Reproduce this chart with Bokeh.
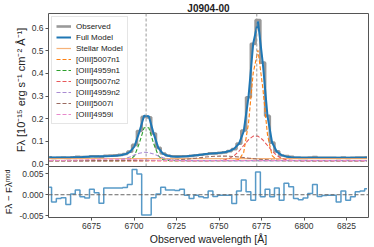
from bokeh.plotting import figure
from bokeh.layouts import column
from bokeh.models import Span, Legend, LegendItem, FixedTicker, PrintfTickFormatter, Range1d
from bokeh.embed import file_html
from bokeh.resources import INLINE

# ---------------- data ----------------
wave = [6650.1, 6652.9, 6655.7, 6658.5, 6661.3, 6664.1, 6666.8, 6669.6, 6672.4, 6675.2,
        6678.0, 6680.8, 6683.6, 6686.4, 6689.2, 6692.0, 6694.7, 6697.5, 6700.3, 6703.1,
        6705.9, 6708.7, 6711.5, 6714.3, 6717.1, 6719.9, 6722.6, 6725.4, 6728.2, 6731.0,
        6733.8, 6736.6, 6739.4, 6742.2, 6745.0, 6747.8, 6750.5, 6753.3, 6756.1, 6758.9,
        6761.7, 6764.5, 6767.3, 6770.1, 6772.9, 6775.7, 6778.5, 6781.2, 6784.0, 6786.8,
        6789.6, 6792.4, 6795.2, 6798.0, 6800.8, 6803.6, 6806.4, 6809.1, 6811.9, 6814.7,
        6817.5, 6820.3, 6823.1, 6825.9, 6828.7, 6831.5, 6834.3, 6837.0]

observed = [0.0300, 0.0266, 0.0276, 0.0281, 0.0269, 0.0299, 0.0314, 0.0305, 0.0310, 0.0339,
            0.0338, 0.0320, 0.0363, 0.0369, 0.0379, 0.0401, 0.0444, 0.0546, 0.0843, 0.1456,
            0.2078, 0.2058, 0.1345, 0.0712, 0.0465, 0.0373, 0.0343, 0.0335, 0.0344, 0.0345,
            0.0357, 0.0388, 0.0408, 0.0430, 0.0467, 0.0471, 0.0490, 0.0515, 0.0569, 0.0657,
            0.0901, 0.1476, 0.2946, 0.5302, 0.6348, 0.4472, 0.2123, 0.0942, 0.0556, 0.0378,
            0.0351, 0.0315, 0.0277, 0.0270, 0.0272, 0.0283, 0.0304, 0.0276, 0.0278, 0.0279,
            0.0279, 0.0263, 0.0289, 0.0267, 0.0275, 0.0287, 0.0289, 0.0294]

full_model = [0.0282, 0.0283, 0.0285, 0.0288, 0.0292, 0.0297, 0.0303, 0.0310, 0.0318, 0.0326,
              0.0333, 0.0340, 0.0347, 0.0353, 0.0363, 0.0385, 0.0427, 0.0522, 0.0783, 0.1407,
              0.2126, 0.2106, 0.1352, 0.0710, 0.0447, 0.0362, 0.0332, 0.0325, 0.0331, 0.0346,
              0.0366, 0.0389, 0.0413, 0.0437, 0.0458, 0.0475, 0.0491, 0.0516, 0.0570, 0.0678,
              0.0892, 0.1441, 0.2939, 0.5315, 0.6294, 0.4477, 0.2110, 0.0947, 0.0540, 0.0391,
              0.0324, 0.0296, 0.0286, 0.0282, 0.0280, 0.0280, 0.0280, 0.0280, 0.0280, 0.0280,
              0.0280, 0.0280, 0.0280, 0.0280, 0.0280, 0.0280, 0.0280, 0.0280]

stellar_model = [0.024, 0.024, 0.024, 0.024, 0.024, 0.024, 0.024, 0.024, 0.024, 0.024,
                 0.024, 0.024, 0.024, 0.024, 0.024, 0.024, 0.024, 0.024, 0.024, 0.024,
                 0.024, 0.024, 0.024, 0.024, 0.024, 0.024, 0.024, 0.024, 0.024, 0.024,
                 0.024, 0.024, 0.024, 0.024, 0.024, 0.024, 0.024, 0.024, 0.024, 0.024,
                 0.024, 0.024, 0.024, 0.024, 0.024, 0.024, 0.024, 0.024, 0.024, 0.024,
                 0.024, 0.024, 0.024, 0.024, 0.024, 0.024, 0.024, 0.024, 0.024, 0.024,
                 0.024, 0.024, 0.024, 0.024, 0.024, 0.024, 0.024, 0.024]

# Gaussian components (flux above the component floor)
oiii5007n1 = [0, 0, 0, 0, 0, 0, 0, 0, 0, 0,
              0, 0, 0, 0, 0, 0, 0, 0, 0, 0,
              0, 0, 0, 0, 0, 0, 0, 0, 0, 0,
              0, 0, 0, 0, 0, 0, 0, 0, 0, 0.0003,
              0.0042, 0.0360, 0.1630, 0.3870, 0.4870, 0.3230, 0.1130, 0.0223, 0.0022, 0.0001,
              0, 0, 0, 0, 0, 0, 0, 0, 0, 0,
              0, 0, 0, 0, 0, 0, 0, 0]
oiii4959n1 = [0, 0, 0, 0, 0, 0, 0, 0, 0, 0,
              0, 0, 0, 0, 0, 0, 0.0002, 0.0031, 0.0212, 0.0764,
              0.1449, 0.1449, 0.0764, 0.0212, 0.0031, 0.0002, 0, 0, 0, 0,
              0, 0, 0, 0, 0, 0, 0, 0, 0, 0,
              0, 0, 0, 0, 0, 0, 0, 0, 0, 0,
              0, 0, 0, 0, 0, 0, 0, 0, 0, 0,
              0, 0, 0, 0, 0, 0, 0, 0]
oiii5007n2 = [0, 0, 0, 0, 0, 0, 0, 0, 0, 0,
              0, 0, 0, 0, 0, 0, 0, 0, 0, 0,
              0, 0, 0, 0, 0, 0, 0, 0, 0, 0,
              0, 0, 0, 0, 0.0001, 0.0004, 0.0012, 0.0037, 0.0098, 0.0218,
              0.0413, 0.0667, 0.0919, 0.1078, 0.1078, 0.0919, 0.0667, 0.0421, 0.0223, 0.0101,
              0.0039, 0.0013, 0.0004, 0.0001, 0, 0, 0, 0, 0, 0,
              0, 0, 0, 0, 0, 0, 0, 0]
oiii4959n2 = [0, 0, 0, 0, 0, 0, 0, 0, 0, 0,
              0, 0, 0.0002, 0.0006, 0.0017, 0.0042, 0.0087, 0.0159, 0.0247, 0.0327,
              0.0368, 0.0354, 0.0290, 0.0202, 0.0120, 0.0061, 0.0027, 0.0010, 0.0003, 0.0001,
              0, 0, 0, 0, 0, 0, 0, 0, 0, 0,
              0, 0, 0, 0, 0, 0, 0, 0, 0, 0,
              0, 0, 0, 0, 0, 0, 0, 0, 0, 0,
              0, 0, 0, 0, 0, 0, 0, 0]
oiii5007i = [0, 0, 0, 0, 0, 0, 0, 0, 0, 0,
             0, 0, 0, 0, 0, 0, 0, 0, 0, 0,
             0.0001, 0.0002, 0.0003, 0.0005, 0.0009, 0.0014, 0.0022, 0.0033, 0.0047, 0.0065,
             0.0086, 0.0109, 0.0133, 0.0157, 0.0177, 0.0191, 0.0199, 0.0199, 0.0192, 0.0177,
             0.0157, 0.0134, 0.0110, 0.0087, 0.0066, 0.0048, 0.0033, 0.0023, 0.0015, 0.0009,
             0.0005, 0.0003, 0.0002, 0.0001, 0, 0, 0, 0, 0, 0,
             0, 0, 0, 0, 0, 0, 0, 0]
oiii4959i = [0.0002, 0.0003, 0.0005, 0.0008, 0.0012, 0.0017, 0.0023, 0.0030, 0.0038, 0.0046,
             0.0053, 0.0060, 0.0065, 0.0067, 0.0066, 0.0063, 0.0058, 0.0052, 0.0044, 0.0036,
             0.0028, 0.0021, 0.0015, 0.0011, 0.0007, 0.0005, 0.0003, 0.0002, 0.0001, 0,
             0, 0, 0, 0, 0, 0, 0, 0, 0, 0,
             0, 0, 0, 0, 0, 0, 0, 0, 0, 0,
             0, 0, 0, 0, 0, 0, 0, 0, 0, 0,
             0, 0, 0, 0, 0, 0, 0, 0]
comp_floor = 0.015

residual = [0.0018, -0.0017, -0.0009, -0.0007, -0.0023, 0.0002, 0.0011, -0.0005, -0.0008, 0.0013,
            0.0005, -0.0020, 0.0016, 0.0016, 0.0016, 0.0016, 0.0017, 0.0024, 0.0060, 0.0049,
            -0.0048, -0.0048, -0.0007, 0.0002, 0.0018, 0.0011, 0.0011, 0.0010, 0.0013, -0.0001,
            -0.0009, -0.0001, -0.0005, -0.0007, 0.0009, -0.0004, -0.0001, -0.0001, -0.0001, -0.0021,
            0.0009, 0.0035, 0.0007, -0.0013, 0.0054, -0.0005, 0.0013, -0.0005, 0.0016, -0.0013,
            0.0027, 0.0019, -0.0009, -0.0012, -0.0008, 0.0003, 0.0024, -0.0004, -0.0002, -0.0001,
            -0.0001, -0.0017, 0.0009, -0.0013, -0.0005, 0.0007, 0.0009, 0.0014]

line_centres = [6772.2, 6707.1]
x_ticks = [6675, 6700, 6725, 6750, 6775, 6800, 6825]
y_ticks_top = [0.0, 0.1, 0.2, 0.3, 0.4, 0.5, 0.6]
y_ticks_res = [-0.005, 0.0, 0.005]

components = [
    ("[OIII]5007n1", oiii5007n1, "#ff7f0e"),
    ("[OIII]4959n1", oiii4959n1, "#2ca02c"),
    ("[OIII]5007n2", oiii5007n2, "#e8585a"),
    ("[OIII]4959n2", oiii4959n2, "#a98bd2"),
    ("[OIII]5007i", oiii5007i, "#9a6a60"),
    ("[OIII]4959i", oiii4959i, "#e889cc"),
]

FONT = "Liberation Sans"
FRAME = "#555555"
TXT = "#333333"


def style_axes(p):
    p.xgrid.visible = False
    p.ygrid.visible = False
    p.outline_line_color = FRAME
    p.outline_line_width = 1
    p.background_fill_color = "white"
    for ax in list(p.xaxis) + list(p.yaxis):
        ax.axis_line_color = None
        ax.major_tick_line_color = FRAME
        ax.major_tick_out = 3
        ax.major_tick_in = 0
        ax.minor_tick_line_color = None
        ax.major_label_text_font = FONT
        ax.major_label_text_font_size = "8.5px"
        ax.major_label_text_color = TXT
        ax.major_label_standoff = 2
        ax.axis_label_text_font = FONT
        ax.axis_label_text_font_style = "normal"
        ax.axis_label_text_color = "#222222"
        ax.axis_label_standoff = 2


# ---------------- top panel ----------------
p1 = figure(width=370, height=172, x_range=Range1d(6649.7, 6837.9),
            y_range=Range1d(-0.011, 0.664), output_backend="svg",
            toolbar_location=None, min_border_left=48, min_border_right=2,
            min_border_top=0, min_border_bottom=6)
p1.title.text = "J0904-00"
p1.title.align = "center"
p1.title.text_font = FONT
p1.title.text_font_size = "10px"
p1.title.text_font_style = "bold"
p1.title.text_color = "#222222"
p1.title.standoff = 0
style_axes(p1)
p1.border_fill_alpha = 0
p1.xaxis.visible = False
p1.yaxis.ticker = FixedTicker(ticks=y_ticks_top)
p1.yaxis.formatter = PrintfTickFormatter(format="%.1f")
p1.yaxis.axis_label = "F\u03bb [10\u207b\u00b9\u2075 erg s\u207b\u00b9 cm\u207b\u00b2 \u00c5\u207b\u00b9]"
p1.yaxis.axis_label_text_font_size = "11px"

r_obs = p1.step(wave, observed, mode="center", line_color="#808080",
                line_width=2.6, line_alpha=0.8)
r_full = p1.line(wave, full_model, line_color="#1f77b4", line_width=2)
r_st = p1.line(wave, stellar_model, line_color="#f4a460", line_width=1.2, line_alpha=0.85)
items = [LegendItem(label="Observed", renderers=[r_obs]),
         LegendItem(label="Full Model", renderers=[r_full]),
         LegendItem(label="Stellar Model", renderers=[r_st])]
for name, vals, col in components:
    r = p1.line(wave, [v + comp_floor for v in vals], line_color=col,
                line_width=1.1, line_dash="4 2")
    items.append(LegendItem(label=name, renderers=[r]))

for c in line_centres:
    p1.add_layout(Span(location=c, dimension="height", line_color="#999999",
                       line_width=1, line_dash="3 2"))

legend = Legend(items=items, location="top_left")
legend.label_text_font = FONT
legend.label_text_font_size = "8px"
legend.label_text_color = "#222222"
legend.glyph_width = 15
legend.glyph_height = 10
legend.label_height = 10
legend.spacing = 1
legend.padding = 4
legend.margin = 3
legend.label_standoff = 5
legend.border_line_color = "#cccccc"
legend.border_line_width = 1
legend.background_fill_alpha = 0.85
p1.add_layout(legend)

# ---------------- residual panel ----------------
p2 = figure(width=370, height=81, x_range=p1.x_range,
            y_range=Range1d(-0.0054, 0.0067), output_backend="svg",
            toolbar_location=None, min_border_left=48, min_border_right=2,
            min_border_top=0, min_border_bottom=0)
p2.margin = (-6, 0, 0, 0)
style_axes(p2)
p2.border_fill_alpha = 0
p2.step(wave, residual, mode="center", line_color="#1f77b4", line_width=1.5, line_alpha=0.75)
p2.add_layout(Span(location=0, dimension="width", line_color="#666666",
                   line_width=1, line_dash="4 2"))
p2.xaxis.ticker = FixedTicker(ticks=x_ticks)
p2.xaxis.formatter = PrintfTickFormatter(format="%d")
p2.xaxis.axis_label = "Observed wavelength [\u00c5]"
p2.xaxis.axis_label_text_font_size = "10.5px"
p2.xaxis.axis_label_standoff = 1
p2.yaxis.ticker = FixedTicker(ticks=y_ticks_res)
p2.yaxis.formatter = PrintfTickFormatter(format="%.3f")
p2.yaxis.axis_label = "F\u03bb \u2212 F\u03bb\u1d50\u1d52\u1d48"
p2.yaxis.axis_label_text_font_size = "9.5px"

layout = column(p1, p2, spacing=0)
open("out.html", "w").write(file_html(layout, INLINE, title="J0904-00"))
